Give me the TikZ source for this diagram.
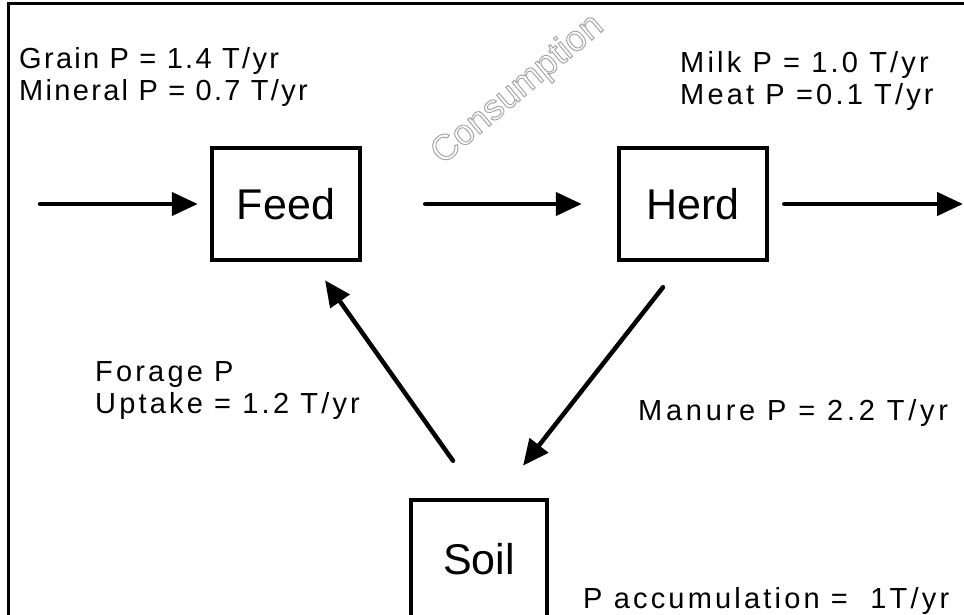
\documentclass[tikz,border=0pt]{standalone}
\usepackage{fontspec}
\setmainfont{Liberation Sans}
\usetikzlibrary{arrows.meta, calc, positioning}

% hollow letters for the stamp
\newcommand{\hollow}[1]{\special{pdf:literal direct 1 Tr 1 w}#1\special{pdf:literal direct 0 Tr}}

\begin{document}
\begin{tikzpicture}[x=1pt, y=-1pt,
    box/.style={draw, line width=4.5pt, minimum width=148pt, minimum height=112pt, inner sep=0pt,
      font=\fontsize{43}{48}\selectfont},
    flow/.style={line width=4.5pt, line cap=round, -{Triangle[length=26pt, width=23pt]}},
    lbl/.style={anchor=north west, inner sep=0pt, align=left,
      font=\fontsize{29}{32}\selectfont\addfontfeature{LetterSpace=11}}]
  \useasboundingbox (0,0) rectangle (964,615);
  \clip (0,0) rectangle (964,615);
  \draw[line width=3pt] (8,4) rectangle (1000,650);

  % boxes
  \node[box] (feed) at (286,204) {Feed};
  \node[box] (herd) at (693,204) {Herd};
  \node[box, minimum width=136pt, minimum height=118pt] (soil) at (479,559) {Soil};
  \coordinate (src) at (40,204);
  \coordinate (sink) at (963,204);

  % flows
  \draw[flow, shorten >=12pt] (src) -- (feed.west);
  \draw[flow, shorten <=63pt, shorten >=35pt] (feed) -- (herd);
  \draw[flow, shorten <=15pt] (herd.east) -- (sink);
  \draw[flow] ([shift={(-26,-37)}]soil.north) -- ([shift={(39,18)}]feed.south);
  \draw[flow] ([shift={(-30,25)}]herd.south) -- ([shift={(44,-32)}]soil.north);

  % labels
  \node[lbl, font=\fontsize{29}{32}\selectfont\addfontfeature{LetterSpace=8}] (buy) at (19,47)
    {Grain P = 1.4 T/yr\\Mineral P = 0.7 T/yr};
  \node[lbl] (sell) at (680,51) {Milk P = 1.0 T/yr\\Meat P =0.1 T/yr};
  \node[lbl] (uptake) at (95,361) {Forage P\\Uptake = 1.2 T/yr};
  \node[lbl, font=\fontsize{29}{32}\selectfont\addfontfeature{LetterSpace=13}] (manure) at (638,399)
    {Manure P = 2.2 T/yr};
  \node[lbl] (accum) at (583,587) {P accumulation = \ 1T/yr};
  \node[rotate=40, text=black!35, font=\fontsize{36}{40}\selectfont] (mark) at (518,90)
    {\hollow{Consumption}};
\end{tikzpicture}
\end{document}
